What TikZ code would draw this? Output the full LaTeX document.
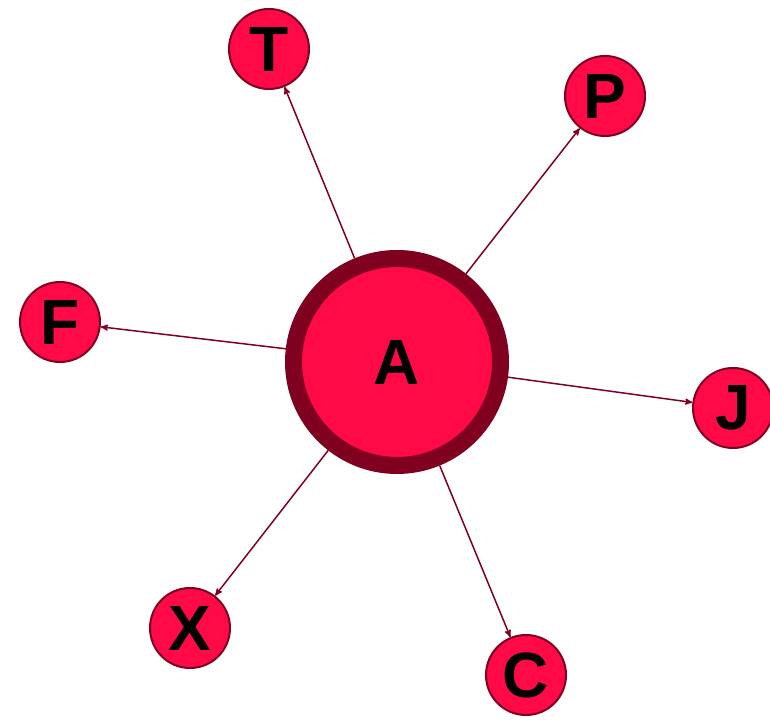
\documentclass[tikz,border=0pt]{standalone}
\usepackage{fontspec}
\setmainfont{Liberation Sans}
\usepackage{tikz}
\usetikzlibrary{arrows,positioning}
\definecolor{nodered}{HTML}{FF0A47}
\definecolor{darkred}{HTML}{800020}
\tikzset{leaf/.style={shape=circle,draw=darkred,fill=nodered,line width=2pt,minimum size=80pt,inner sep=0pt,font=\fontsize{64}{64}\selectfont\bfseries}}

\begin{document}
\begin{tikzpicture}[x=1pt, y=1pt, ->, >=stealth', semithick]
    \useasboundingbox (0,0) rectangle (770,722);
    \node[shape=circle,draw=darkred,fill=nodered,line width=17pt,minimum size=207pt,inner sep=0pt,font=\fontsize{64}{64}\selectfont\bfseries] (A) at (397,360) {A};

    \node[leaf] (T) at (269,673) {T};
    \node[leaf] (P) at (605,626) {P};
    \node[leaf] (F) at (60,400) {F};
    \node[leaf] (J) at (733,314) {J};
    \node[leaf] (X) at (190,94) {X};
    \node[leaf] (C) at (526,47) {C};

    \path[draw=darkred, line width=1.5pt] (A) edge (T)
        (A) edge (P)
        (A) edge (F)
        (A) edge (J)
        (A) edge (X)
        (A) edge (C);
\end{tikzpicture}
\end{document}
